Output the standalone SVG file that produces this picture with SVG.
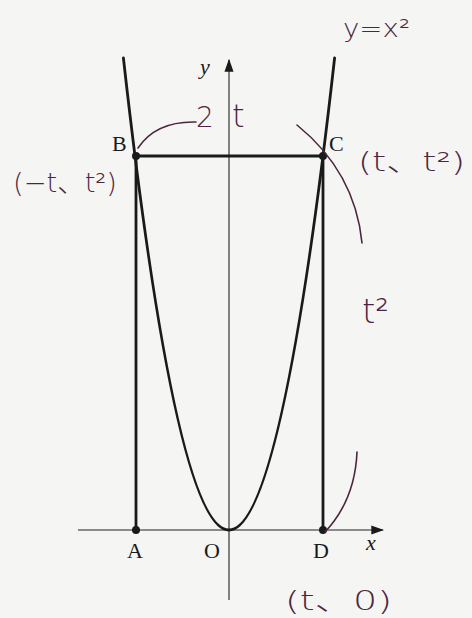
<svg xmlns="http://www.w3.org/2000/svg" width="472" height="618" viewBox="0 0 472 618">
  <style>
    .axis{stroke:#222;stroke-width:1.1;fill:none}
    .thick{stroke:#1a1a1a;stroke-width:2.8;fill:none;stroke-linecap:round}
    .dot{fill:#1a1a1a}
    .lbl{font-family:"Liberation Serif","Times New Roman",serif;font-size:22px;fill:#1a1a1a}
    .it{font-style:italic}
    .hand{font-family:"DejaVu Sans","Noto Sans CJK JP",sans-serif;font-weight:200;fill:#4d2540}
    .handline{stroke:#4d2540;stroke-width:1.6;fill:none;stroke-linecap:round}
  </style>
  <defs>
    <marker id="arr" viewBox="0 0 10 10" refX="9" refY="5" markerWidth="13" markerHeight="13" markerUnits="userSpaceOnUse" orient="auto">
      <path d="M0,1.5 L10,5 L0,8.5 Z" fill="#1a1a1a"/>
    </marker>
  </defs>
  <rect width="472" height="618" fill="#f5f5f3"/>

  <g id="axes">
    <line class="axis" x1="78" y1="530" x2="383" y2="530" marker-end="url(#arr)"/>
    <line class="axis" x1="229" y1="600" x2="229" y2="60" marker-end="url(#arr)"/>
    <text class="lbl it" x="366" y="550">x</text>
    <text class="lbl it" x="200" y="74">y</text>
  </g>

  <g id="parabola">
    <path class="thick" d="M123.4,58 Q229,1002 334.6,58"/>
  </g>

  <g id="connectors">
    <line class="thick" x1="136" y1="530" x2="136" y2="156"/>
    <line class="thick" x1="136" y1="156" x2="323" y2="156"/>
    <line class="thick" x1="323" y1="156" x2="323" y2="530"/>
  </g>

  <g id="A"><circle class="dot" cx="136" cy="530" r="4"/><text class="lbl" x="127" y="558">A</text></g>
  <g id="B"><circle class="dot" cx="136" cy="156" r="4"/><text class="lbl" x="112" y="151">B</text></g>
  <g id="C"><circle class="dot" cx="323" cy="156" r="4"/><text class="lbl" x="329" y="151">C</text></g>
  <g id="D"><circle class="dot" cx="323" cy="530" r="4"/><text class="lbl" x="313" y="558">D</text></g>
  <g id="O"><text class="lbl" x="204" y="558">O</text></g>

  <g id="annotations">
    <text class="hand" x="343" y="37" font-size="24" textLength="67" lengthAdjust="spacingAndGlyphs">y=x²</text>
    <path class="handline" d="M138,148 Q156,121 196,122"/>
    <text class="hand" x="196" y="127" font-size="28">2</text>
    <text class="hand" x="232" y="127" font-size="32">t</text>
    <text class="hand" x="13" y="192" font-size="26" textLength="104" lengthAdjust="spacingAndGlyphs">(−t、t²)</text>
    <path class="handline" d="M297,125 Q355,172 362,243"/>
    <text class="hand" x="358" y="171" font-size="26" textLength="107" lengthAdjust="spacingAndGlyphs">(t、t²)</text>
    <text class="hand" x="362" y="323" font-size="34">t²</text>
    <path class="handline" d="M325,532 Q355,500 357,452"/>
    <text class="hand" x="285" y="610" font-size="26" textLength="107" lengthAdjust="spacingAndGlyphs">(t、0)</text>
  </g>
</svg>
